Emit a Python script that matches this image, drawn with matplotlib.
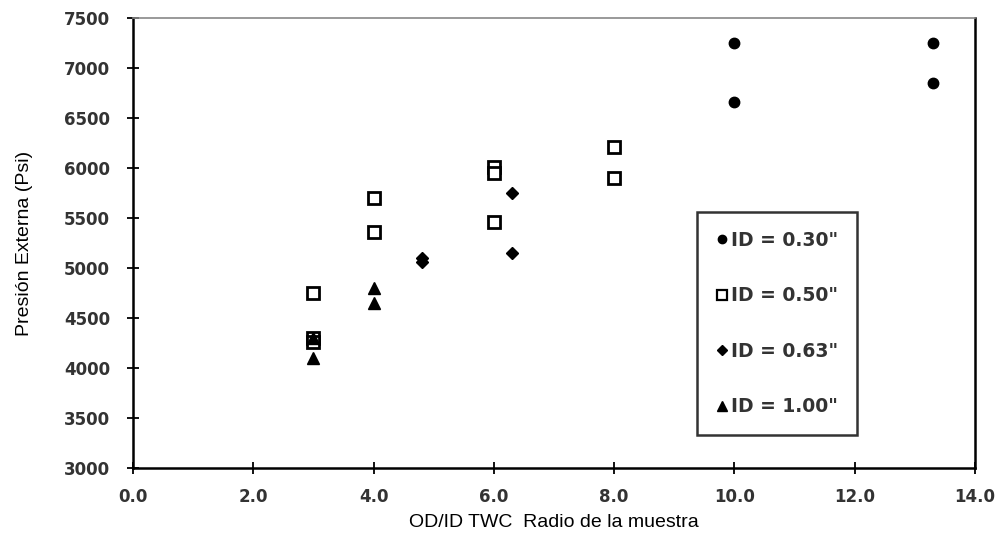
import matplotlib.pyplot as plt
from matplotlib.lines import Line2D

# ID = 0.30"
x_030 = [10.0, 10.0, 13.3, 13.3]
y_030 = [7250, 6660, 7250, 6850]
# ID = 0.50"
x_050 = [3.0, 3.0, 3.0, 4.0, 4.0, 6.0, 6.0, 6.0, 8.0, 8.0]
y_050 = [4750, 4300, 4260, 5700, 5360, 6010, 5950, 5460, 6210, 5900]
# ID = 0.63"
x_063 = [4.8, 4.8, 6.3, 6.3]
y_063 = [5100, 5060, 5750, 5150]
# ID = 1.00"
x_100 = [3.0, 3.0, 4.0, 4.0]
y_100 = [4300, 4100, 4800, 4650]

labels = ['ID = 0.30"', 'ID = 0.50"', 'ID = 0.63"', 'ID = 1.00"']
x_ticks = [0, 2, 4, 6, 8, 10, 12, 14]
y_ticks = [3000, 3500, 4000, 4500, 5000, 5500, 6000, 6500, 7000, 7500]

fig = plt.figure(figsize=(10.03, 5.37), dpi=100)
ax = fig.add_axes([0.1326, 0.1285, 0.8395, 0.838])

ax.plot(x_030, y_030, 'o', color='black', ms=7.5, ls='none')
ax.plot(x_050, y_050, 's', mfc='white', mec='black', mew=2.0, ms=9, ls='none')
ax.plot(x_063, y_063, 'D', color='black', ms=6.5, ls='none')
ax.plot(x_100, y_100, '^', color='black', ms=9, ls='none')

ax.set_xlim(0, 14)
ax.set_ylim(3000, 7500)
ax.set_xticks(x_ticks)
ax.set_xticklabels([f"{v:.1f}" for v in x_ticks])
ax.set_yticks(y_ticks)
ax.tick_params(direction='inout', length=9, width=1.3, colors='black')
ax.tick_params(axis='x', pad=10)
ax.tick_params(axis='y', pad=12)
for lab in ax.get_xticklabels() + ax.get_yticklabels():
    lab.set_fontweight('bold')
    lab.set_fontsize(12)
    lab.set_color('#333333')

for side in ['left', 'bottom', 'right']:
    ax.spines[side].set_linewidth(1.8)
    ax.spines[side].set_color('black')
ax.spines['top'].set_linewidth(1.2)
ax.spines['top'].set_color('#888888')

label_font = ['Liberation Sans', 'DejaVu Sans']
ax.set_xlabel('OD/ID TWC  Radio de la muestra', family=label_font, fontsize=14, labelpad=6)
ax.set_ylabel('Presión Externa (Psi)', family=label_font, fontsize=14, labelpad=22)

handles = [
    Line2D([], [], marker='o', color='black', ms=6, ls='none'),
    Line2D([], [], marker='s', mfc='white', mec='black', mew=1.6, ms=7, ls='none'),
    Line2D([], [], marker='D', color='black', ms=5.5, ls='none'),
    Line2D([], [], marker='^', color='black', ms=7.5, ls='none'),
]
leg = ax.legend(handles, labels, loc='upper left', bbox_to_anchor=(0.67, 0.569),
                frameon=True, fancybox=False, edgecolor='black', handlelength=0.6,
                handletextpad=0.2, labelspacing=1.95, borderpad=1.0, borderaxespad=0,
                prop={'weight': 'bold', 'size': 13.5})
leg.get_frame().set_linewidth(1.8)
for t in leg.get_texts():
    t.set_color('#333333')

fig.savefig('out.png', dpi=100)
